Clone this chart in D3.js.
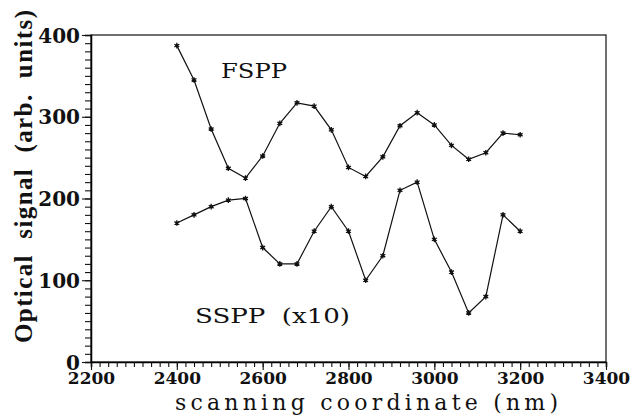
<!DOCTYPE html>
<html>
<head>
<meta charset="utf-8">
<script src="https://cdn.jsdelivr.net/npm/d3@7"></script>
<style>
  body { margin: 0; background: #fff; }
  svg { display: block; }
  text { white-space: pre; }
</style>
</head>
<body>
<svg></svg>
<script>
// scan positions (nm) and the two signals
var positions = [2400, 2440, 2480, 2520, 2560, 2600, 2640, 2680, 2720, 2760, 2800,
                 2840, 2880, 2920, 2960, 3000, 3040, 3080, 3120, 3160, 3200];
var fspp = [387, 345, 285, 237, 225, 252, 292, 317, 313, 284, 238,
            227, 251, 289, 305, 290, 265, 248, 256, 280, 278];
var sspp = [170, 180, 190, 198, 200, 140, 120, 120, 160, 190, 160,
            100, 130, 210, 220, 150, 110, 60, 80, 180, 160];
var xTicks = [2200, 2400, 2600, 2800, 3000, 3200, 3400];
var yTicks = [0, 100, 200, 300, 400];

var svgWidth = 631, svgHeight = 419;
var plotLeft = 91, plotRight = 606, plotTop = 35, plotBottom = 362;

var svg = d3.select("svg")
    .attr("width", svgWidth)
    .attr("height", svgHeight);

var xScale = d3.scaleLinear()
    .domain([2200, 3400])
    .range([plotLeft, plotRight]);
var yScale = d3.scaleLinear()
    .domain([0, 400])
    .range([plotBottom, plotTop]);

// frame
svg.append("rect")
    .attr("x", plotLeft)
    .attr("y", plotTop)
    .attr("width", plotRight - plotLeft)
    .attr("height", plotBottom - plotTop)
    .attr("fill", "none")
    .attr("stroke", "#111")
    .attr("stroke-width", 1.2);

// minor ticks
var xMinor = d3.axisBottom(xScale)
    .tickValues(d3.range(2200, 3401, 20))
    .tickSize(5)
    .tickFormat("");
var yMinor = d3.axisLeft(yScale)
    .tickValues(d3.range(0, 401, 10))
    .tickSize(6)
    .tickFormat("");

svg.append("g")
    .attr("transform", "translate(0," + plotBottom + ")")
    .call(xMinor)
    .call(function(g) { g.select(".domain").attr("stroke-width", 1.5); });
svg.append("g")
    .attr("transform", "translate(" + plotLeft + ",0)")
    .call(yMinor)
    .call(function(g) { g.select(".domain").attr("stroke-width", 1.5); });

// major ticks with labels
var xMajor = d3.axisBottom(xScale)
    .tickValues(xTicks)
    .tickSize(8)
    .tickPadding(2)
    .tickFormat(d3.format("d"));
var yMajor = d3.axisLeft(yScale)
    .tickValues(yTicks)
    .tickSize(9)
    .tickPadding(2)
    .tickFormat(d3.format("d"));

var gx = svg.append("g")
    .attr("transform", "translate(0," + plotBottom + ")")
    .call(xMajor);
gx.select(".domain").remove();
gx.selectAll("text")
    .attr("font-family", "DejaVu Serif")
    .attr("font-weight", "bold")
    .attr("font-size", 17)
    .attr("fill", "#111");

var gy = svg.append("g")
    .attr("transform", "translate(" + plotLeft + ",0)")
    .call(yMajor);
gy.select(".domain").remove();
gy.selectAll("text")
    .attr("font-family", "DejaVu Serif")
    .attr("font-weight", "bold")
    .attr("font-size", 20)
    .attr("dy", "0.36em")
    .attr("fill", "#111");

svg.selectAll(".tick line").attr("stroke", "#111").attr("stroke-width", 1.1);

// series
var line = d3.line()
    .x(function(d) { return xScale(d[0]); })
    .y(function(d) { return yScale(d[1]); });

var star = d3.symbol().type(d3.symbolAsterisk).size(22);

[fspp, sspp].forEach(function(values) {
    var pts = positions.map(function(p, i) { return [p, values[i]]; });
    svg.append("path")
        .datum(pts)
        .attr("d", line)
        .attr("fill", "none")
        .attr("stroke", "#111")
        .attr("stroke-width", 1.2);
    svg.append("g").selectAll("path")
        .data(pts)
        .join("path")
        .attr("transform", function(d) {
            return "translate(" + xScale(d[0]) + "," + yScale(d[1]) + ")";
        })
        .attr("d", star)
        .attr("fill", "none")
        .attr("stroke", "#111")
        .attr("stroke-width", 1.3);
    svg.append("g").selectAll("circle")
        .data(pts)
        .join("circle")
        .attr("cx", function(d) { return xScale(d[0]); })
        .attr("cy", function(d) { return yScale(d[1]); })
        .attr("r", 1.6)
        .attr("fill", "#111");
});

// curve labels
svg.append("text")
    .attr("x", 221)
    .attr("y", 78)
    .attr("font-family", "DejaVu Serif")
    .attr("font-size", 21)
    .attr("textLength", 66)
    .attr("lengthAdjust", "spacingAndGlyphs")
    .attr("fill", "#111")
    .text("FSPP");
svg.append("text")
    .attr("x", 195)
    .attr("y", 323)
    .attr("font-family", "DejaVu Serif")
    .attr("font-size", 20)
    .attr("textLength", 155)
    .attr("lengthAdjust", "spacingAndGlyphs")
    .attr("fill", "#111")
    .text("SSPP  (x10)");

// axis titles
svg.append("text")
    .attr("x", 175)
    .attr("y", 410)
    .attr("font-family", "DejaVu Serif")
    .attr("font-size", 22)
    .attr("textLength", 383)
    .attr("lengthAdjust", "spacing")
    .attr("fill", "#111")
    .text("scanning coordinate (nm)");
svg.append("text")
    .attr("transform", "translate(32,343) rotate(-90)")
    .attr("font-family", "Liberation Serif")
    .attr("font-weight", "bold")
    .attr("font-size", 25)
    .attr("textLength", 333)
    .attr("lengthAdjust", "spacing")
    .attr("fill", "#111")
    .text("Optical  signal  (arb.  units)");
</script>
</body>
</html>
